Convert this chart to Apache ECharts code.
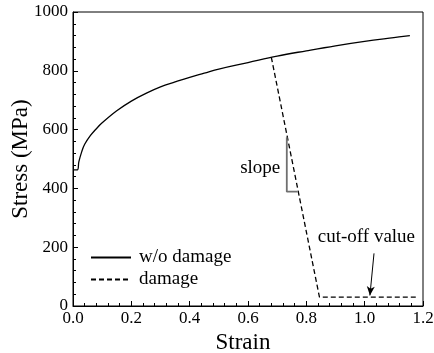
<!DOCTYPE html>
<html>
<head>
<meta charset="utf-8">
<script src="https://cdn.jsdelivr.net/npm/echarts@6/dist/echarts.min.js"></script>
<style>
  html, body { margin: 0; padding: 0; background: #fff; }
  #chart { width: 434px; height: 353px; }
</style>
</head>
<body>
<div id="chart"></div>
<script>
// Flow curve without damage: [strain, stress (MPa)]
const strainNoDamage = [0.0, 0.015, 0.02, 0.03, 0.04, 0.06, 0.08, 0.1, 0.15, 0.2, 0.25, 0.3, 0.35, 0.4, 0.45, 0.5, 0.6, 0.7, 0.8, 0.9, 1.0, 1.1, 1.155];
const stressNoDamage = [463, 463, 490, 525, 550, 580, 603, 623, 664, 697, 723, 745, 762, 778, 792, 806, 828, 850, 868, 885, 900, 913, 920];

// Damaged response: softening branch then constant cut-off stress
const strainDamage = [0.68, 0.845, 1.18];
const stressDamage = [846, 30, 30];

// Slope indicator (vertical then horizontal leg)
const slopeLeg = [[0.733, 574], [0.733, 389], [0.770, 389]];
// Cut-off arrow: tail -> head
const cutoffArrow = [[1.032, 179], [1.018, 36]];

const xTicks = { min: 0, max: 1.2, step: 0.2 };
const yTicks = { min: 0, max: 1000, step: 200 };

const font = 'Liberation Serif';
const zip = (xs, ys) => xs.map((x, i) => [x, ys[i]]);

const chart = echarts.init(document.getElementById('chart'), null, { renderer: 'canvas' });

const axisCommon = {
  axisLine: { show: true, onZero: false, lineStyle: { color: '#000', width: 1 } },
  axisTick: { show: true, inside: true, length: 5, lineStyle: { color: '#000', width: 1 } },
  minorTick: { show: true, splitNumber: 5, length: 3, lineStyle: { color: '#000', width: 1 } },
  splitLine: { show: false }
};

const textLabel = (text, position, extra) => Object.assign({
  show: true, formatter: text, position: position,
  fontFamily: font, fontSize: 19, color: '#000'
}, extra || {});

chart.setOption({
  animation: false,
  backgroundColor: '#fff',
  grid: {
    left: 73, right: 11, top: 12, bottom: 47,
    outerBoundsMode: 'none', containLabel: false,
    show: true, borderColor: '#000', borderWidth: 1, backgroundColor: 'transparent'
  },
  legend: {
    orient: 'vertical',
    left: 90,
    top: 248,
    padding: 0,
    itemWidth: 40,
    itemHeight: 14,
    itemGap: 3,
    itemStyle: { opacity: 0 },
    textStyle: { fontFamily: font, fontSize: 19, color: '#000', padding: [0, 0, 0, 3] },
    data: ['w/o damage', 'damage']
  },
  xAxis: Object.assign({}, axisCommon, {
    type: 'value',
    min: xTicks.min, max: xTicks.max, interval: xTicks.step,
    name: 'Strain', nameLocation: 'middle', nameGap: 22,
    nameTextStyle: { fontFamily: font, fontSize: 23, color: '#000', padding: [0, 10, 0, 0] },
    axisLabel: { fontFamily: font, fontSize: 17, color: '#000', margin: 4, formatter: v => v.toFixed(1) }
  }),
  yAxis: Object.assign({}, axisCommon, {
    type: 'value',
    min: yTicks.min, max: yTicks.max, interval: yTicks.step,
    name: 'Stress (MPa)', nameLocation: 'middle', nameGap: 41, nameMoveOverlap: false,
    nameTextStyle: { fontFamily: font, fontSize: 23, color: '#000' },
    axisLabel: { fontFamily: font, fontSize: 17, color: '#000', margin: 5, formatter: v => String(v) }
  }),
  series: [
    {
      name: 'w/o damage',
      type: 'line',
      data: zip(strainNoDamage, stressNoDamage),
      symbol: 'none',
      smooth: 0.4,
      lineStyle: { color: '#000', width: 1.3, type: 'solid' },
      itemStyle: { color: '#000' }
    },
    {
      name: 'damage',
      type: 'line',
      data: zip(strainDamage, stressDamage),
      symbol: 'none',
      lineStyle: { color: '#000', width: 1.3, type: [5, 3] },
      itemStyle: { color: '#000' }
    },
    {
      name: 'slope',
      type: 'line',
      data: slopeLeg,
      symbol: 'none',
      silent: true,
      lineStyle: { color: '#707070', width: 1.8 },
      markPoint: {
        symbol: 'circle',
        symbolSize: 1,
        itemStyle: { color: 'rgba(0,0,0,0)' },
        data: [{ coord: [slopeLeg[0][0], 470], label: textLabel('slope', 'left', { distance: 6 }) }]
      }
    },
    {
      name: 'cutoff',
      type: 'line',
      data: [],
      silent: true,
      markLine: {
        silent: true,
        symbol: ['none', 'arrow'],
        symbolSize: [6, 9],
        lineStyle: { color: '#000', width: 1, type: 'solid' },
        label: { show: false },
        data: [[{ coord: cutoffArrow[0] }, { coord: cutoffArrow[1] }]]
      },
      markPoint: {
        symbol: 'circle',
        symbolSize: 1,
        itemStyle: { color: 'rgba(0,0,0,0)' },
        data: [{ coord: [1.006, 235], label: textLabel('cut-off value', 'inside') }]
      }
    }
  ]
});
</script>
</body>
</html>
